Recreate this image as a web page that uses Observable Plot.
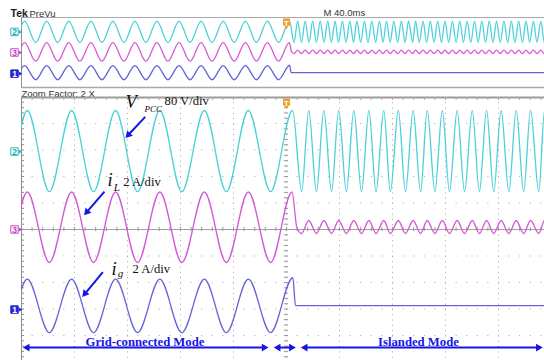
<!DOCTYPE html>
<html>
<head>
<meta charset="utf-8">
<script src="https://cdn.jsdelivr.net/npm/d3@7"></script>
<script src="https://cdn.jsdelivr.net/npm/@observablehq/plot@0.6"></script>
<style>
  html, body { margin: 0; padding: 0; background: #fff; }
  #scope { position: relative; width: 544px; height: 360px; overflow: hidden; background: #fff; }
  #scope svg { position: absolute; left: 0; top: 0; }
</style>
</head>
<body>
<div id="scope"></div>
<script>
// ---- channel settings -------------------------------------------------
const channelNames = ["VPCC", "iL", "ig"];
const channelNumbers = ["2", "3", "1"];
const unitsPerDiv = [80, 2, 2];          // 80 V/div, 2 A/div, 2 A/div
const groundDiv = [2.94, 0, -3.02];      // ground marker, divisions from screen centre

// ---- grid-connected mode (60 Hz): crest / trough instants, ms from islanding
const gridCrestMs = [-214.3, -197.7, -181.0, -164.3, -147.6, -131.0, -114.4, -97.8, -81.1, -64.5, -47.8, -31.0, -14.4];
const gridTroughMs = [-206.0, -189.3, -172.7, -156.0, -139.3, -122.7, -106.1, -89.5, -72.8, -56.2, -39.5, -22.7, -6.0];
const gridCrest = [124, 2.83, 2.3];      // V, A, A
const gridTrough = [-121, -2.49, -1.74];

// ---- switchover: last crest, then the currents collapse
const lastCrestMs = [2.3, 2.1, 2.4];
const lastCrest = [124, 2.83, 2.4];
const dropMs = [null, 3.9, 3.4];
const drop = [null, 0.15, 0.3];

// ---- islanded mode: crest / trough instants, ms
const islandCrestMs = [8.4, 14.1, 19.7, 25.4, 31.1, 36.7, 42.2, 47.8, 53.1, 58.8, 64.4, 70.1, 75.5, 81.0, 86.7, 92.1, 97.4,
  103.0, 108.5, 114.1, 119.6, 125.2, 130.8, 136.3, 141.9, 147.4, 153.0, 158.5, 164.1, 169.7, 175.2, 180.8, 186.3, 191.9, 197.4];
const islandTroughMs = [5.7, 11.3, 17.0, 22.6, 28.3, 33.8, 39.2, 44.9, 50.6, 56.0, 61.5, 67.2, 72.8, 78.2, 83.9, 89.5, 95.2,
  100.2, 105.8, 111.3, 116.9, 122.4, 128.0, 133.5, 139.1, 144.6, 150.2, 155.8, 161.3, 166.9, 172.4, 178.0, 183.5, 189.1, 194.6];
const islandCrest = [124, 0.68, 0.3];
const islandTrough = [-121, -0.3, 0.3];

// ---- text
const modeLabels = ["Grid-connected Mode", "Islanded Mode"];
const scopeTexts = ["Tek", "PreVu", "M 40.0ms", "Zoom Factor: 2 X"];

// ---- build one trace per channel, in screen divisions
function traceOf(c) {
  const pts = [];
  gridCrestMs.forEach(t => pts.push({t, v: gridCrest[c]}));
  gridTroughMs.forEach(t => pts.push({t, v: gridTrough[c]}));
  pts.push({t: lastCrestMs[c], v: lastCrest[c]});
  if (dropMs[c] != null) pts.push({t: dropMs[c], v: drop[c]});
  islandCrestMs.forEach(t => pts.push({t, v: islandCrest[c]}));
  islandTroughMs.forEach(t => pts.push({t, v: islandTrough[c]}));
  pts.sort((a, b) => a.t - b.t);
  return pts.map(p => ({t: p.t, div: groundDiv[c] + p.v / unitsPerDiv[c]}));
}
const traces = channelNames.map((_, c) => traceOf(c));

const W = 544, H = 360;
const traceColors = ["#4ad2d8", "#d45ad4", "#6464d6"];
const tagFill = ["#ffffff", "#ffffff", "#2626d6"];
const tagStroke = ["#2fb9c2", "#c64ac6", "#2626d6"];
const tagInk = ["#1aa9b2", "#bf3fbf", "#ffffff"];
const orange = "#f0a028";
const annBlue = "#1515e8";
const serif = "Liberation Serif, Times New Roman, serif";
const sans = "Liberation Sans, Arial, sans-serif";

// channel tags (number box with a pointer) for a given x-domain start
function tags(x0) {
  const idx = [0, 1, 2];
  return [
    Plot.dot(idx, {x: x0, y: c => groundDiv[c], dx: -7, symbol: "square", r: 4.2,
      fill: c => tagFill[c], stroke: c => tagStroke[c], strokeWidth: 1}),
    Plot.dot(idx, {x: x0, y: c => groundDiv[c], dx: -1.5, symbol: "triangle2", rotate: 90, r: 2,
      fill: c => tagStroke[c]}),
    Plot.text(idx, {x: x0, y: c => groundDiv[c], dx: -7, dy: 3, text: c => channelNumbers[c],
      fill: c => tagInk[c], fontSize: 8.5, fontWeight: "bold", fontFamily: sans, lineAnchor: "bottom"})
  ];
}
// trigger flag at the top of a frame
function trigger(yTop) {
  return [
    Plot.dot([0], {x: d => d, y: yTop, dy: 4.5, symbol: "square", r: 4, fill: orange}),
    Plot.dot([0], {x: d => d, y: yTop, dy: 8.5, symbol: "triangle2", rotate: 180, r: 2.6, fill: orange}),
    Plot.text(["T"], {x: 0, y: yTop, dy: 8, text: d => d, fill: "#fff", fontSize: 8,
      fontWeight: "bold", fontFamily: sans, lineAnchor: "bottom"})
  ];
}

// ---------------- preview window (40 ms/div) ----------------
const prevX = [-200, 194.7], prevY = [-5, 5];
const preview = Plot.plot({
  width: W, height: H, marginTop: 17, marginBottom: H - 87, marginLeft: 21, marginRight: 0,
  x: {domain: prevX, axis: null}, y: {domain: prevY, axis: null},
  color: {type: "identity"},
  style: {background: "transparent", overflow: "visible"},
  marks: [
    Plot.ruleY([prevY[1]], {stroke: "#a8a8a8", strokeWidth: 1.2}),
    Plot.ruleY([prevY[0]], {stroke: "#a8a8a8", strokeWidth: 1.5}),
    Plot.ruleX([prevX[0]], {stroke: "#909090"}),
    ...traces.map((d, c) => Plot.line(d, {x: "t", y: "div", stroke: traceColors[c], strokeWidth: 1.3,
      curve: "monotone-x", clip: true})),
    ...tags(prevX[0]),
    ...trigger(prevY[1]),
    Plot.text([scopeTexts[0]], {frameAnchor: "top-left", dx: -11, dy: -1, text: d => d, textAnchor: "start",
      lineAnchor: "bottom", fontSize: 10.5, fontWeight: "bold", fontFamily: sans, fill: "#222"}),
    Plot.text([scopeTexts[1]], {frameAnchor: "top-left", dx: 8, dy: -1, text: d => d, textAnchor: "start",
      lineAnchor: "bottom", fontSize: 9.5, fontFamily: sans, fill: "#333"}),
    Plot.text([scopeTexts[2]], {frameAnchor: "top-left", dx: 302, dy: -2, text: d => d, textAnchor: "start",
      lineAnchor: "bottom", fontSize: 9.5, fontFamily: sans, fill: "#333"}),
    Plot.text([scopeTexts[3]], {frameAnchor: "bottom-left", dx: 0, dy: 9, text: d => d, textAnchor: "start",
      lineAnchor: "bottom", fontSize: 9.5, fontFamily: sans, fill: "#333"})
  ]
});

// ---------------- zoomed window (20 ms/div) ----------------
const mainX = [-100, 97.36], mainY = [-4.943, 4.981];
const pxPerMs = (W - 21) / (mainX[1] - mainX[0]);
const pxPerDiv = (H - 97) / (mainY[1] - mainY[0]);
const majorMs = [-80, -60, -40, -20, 0, 20, 40, 60, 80];
const majorDiv = [-4, -3, -2, -1, 1, 2, 3, 4];
const minorMs = d3.range(-96, 97, 4);
const minorDiv = d3.range(-4.8, 4.9, 0.2);

// pointer annotations (tail -> tip) and the mode spans
const pointers = [
  {x1: -53.3, y1: 4.25, x2: -61.1, y2: 3.42},
  {x1: -68.7, y1: 1.43, x2: -76.7, y2: 0.50},
  {x1: -69.3, y1: -1.61, x2: -77.4, y2: -2.58}
];
const spanY = -4.453;
const spans = [
  {x1: -100, x2: -6.3},
  {x1: -5.3, x2: 4.0},
  {x1: 4.9, x2: 97.2}
];
const HEAD_R = 3.7;
const headSide = Math.sqrt(4 * Math.PI * HEAD_R * HEAD_R / Math.sqrt(3));
const headBack = headSide / Math.sqrt(3);            // centroid to tip
function headAt(tipX, tipY, fromX, fromY) {
  const dx = (tipX - fromX) * pxPerMs, dy = -(tipY - fromY) * pxPerDiv;
  const L = Math.hypot(dx, dy), ux = dx / L, uy = dy / L;
  return {x: tipX - ux * headBack / pxPerMs, y: tipY + uy * headBack / pxPerDiv,
          rotate: Math.atan2(ux, -uy) * 180 / Math.PI};
}
function shaftTrim(x1, y1, x2, y2, trim1, trim2) {
  const dx = (x2 - x1) * pxPerMs, dy = -(y2 - y1) * pxPerDiv;
  const L = Math.hypot(dx, dy), ux = dx / L, uy = dy / L;
  return {x1: x1 + ux * trim1 / pxPerMs, y1: y1 - uy * trim1 / pxPerDiv,
          x2: x2 - ux * trim2 / pxPerMs, y2: y2 + uy * trim2 / pxPerDiv};
}
const shafts = [
  ...pointers.map(p => shaftTrim(p.x1, p.y1, p.x2, p.y2, 0, headSide * 0.7)),
  ...spans.map(s => shaftTrim(s.x1, spanY, s.x2, spanY, headSide * 0.7, headSide * 0.7))
];
const heads = [
  ...pointers.map(p => headAt(p.x2, p.y2, p.x1, p.y1)),
  ...spans.flatMap(s => [headAt(s.x1, spanY, s.x2, spanY), headAt(s.x2, spanY, s.x1, spanY)])
];

const italicLabels = [
  {text: "V", x: -60.8, y: 4.57, size: 18.5},
  {text: "PCC", x: -53.6, y: 4.42, size: 9},
  {text: "i", x: -67.5, y: 1.66, size: 18.5},
  {text: "L", x: -65.2, y: 1.47, size: 11},
  {text: "i", x: -66.0, y: -1.70, size: 18.5},
  {text: "g", x: -63.7, y: -1.81, size: 11}
];
const scaleLabels = [
  {text: unitsPerDiv[0] + " V/div", x: -46.0, y: 4.68},
  {text: unitsPerDiv[1] + " A/div", x: -61.6, y: 1.66},
  {text: unitsPerDiv[2] + " A/div", x: -58.1, y: -1.66}
];
const modeText = [
  {text: modeLabels[0], x: -53.4, y: -4.377},
  {text: modeLabels[1], x: 49.8, y: -4.377}
];

const grid = "#a6a6a6";
const main = Plot.plot({
  width: W, height: H, marginTop: 97, marginBottom: 0, marginLeft: 21, marginRight: 0,
  x: {domain: mainX, axis: null}, y: {domain: mainY, axis: null},
  color: {type: "identity"},
  style: {background: "transparent", overflow: "visible"},
  marks: [
    // graticule
    Plot.ruleX(majorMs, {stroke: grid, strokeDasharray: "1,4.3"}),
    Plot.ruleY(majorDiv, {stroke: grid, strokeDasharray: "1,9.6"}),
    Plot.ruleY([0], {stroke: "#a0a0a0"}),
    Plot.ruleY(minorDiv, {x1: -0.8, x2: 0.8, stroke: "#9a9a9a"}),
    Plot.ruleX(minorMs, {y1: -0.08, y2: 0.08, stroke: "#9a9a9a"}),
    Plot.ruleX([mainX[0]], {stroke: "#8e8e8e"}),
    Plot.ruleY(minorDiv, {x1: mainX[0], x2: mainX[0] + 3 / pxPerMs, stroke: "#8e8e8e"}),
    Plot.ruleY([mainY[1]], {stroke: "#9c9c9c", strokeWidth: 2}),
    Plot.ruleX(minorMs, {y1: mainY[1], y2: mainY[1] - 3 / pxPerDiv, stroke: "#a8a8a8"}),
    // waveforms
    ...traces.map((d, c) => Plot.line(d, {x: "t", y: "div", stroke: traceColors[c], strokeWidth: 1.3,
      curve: "monotone-x", clip: true})),
    ...tags(mainX[0]),
    ...trigger(mainY[1]),
    // annotations
    Plot.link(shafts, {x1: "x1", y1: "y1", x2: "x2", y2: "y2", stroke: annBlue, strokeWidth: 2}),
    Plot.dot(heads, {x: "x", y: "y", rotate: "rotate", symbol: "triangle2", r: HEAD_R, fill: annBlue}),
    Plot.text(italicLabels, {x: "x", y: "y", text: "text", fontSize: d => d.size, fontStyle: "italic",
      fontFamily: serif, fill: "#111", textAnchor: "start", lineAnchor: "bottom"}),
    Plot.text(scaleLabels, {x: "x", y: "y", text: "text", fontSize: 12.6, fontFamily: serif,
      fill: "#111", textAnchor: "start", lineAnchor: "bottom"}),
    Plot.text(modeText, {x: "x", y: "y", text: "text", fontSize: 12.7, fontWeight: "bold",
      fontFamily: serif, fill: annBlue, textAnchor: "middle", lineAnchor: "bottom"})
  ]
});

const host = document.getElementById("scope");
host.append(preview, main);
</script>
</body>
</html>
